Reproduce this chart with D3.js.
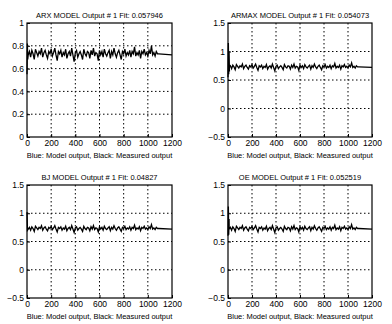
<!DOCTYPE html>
<html>
<head>
<meta charset="utf-8">
<script src="https://cdn.jsdelivr.net/npm/d3@7"></script>
<style>
  body { margin: 0; background: #fff; }
  svg { display: block; font-family: "Liberation Sans", Arial, sans-serif; }
</style>
</head>
<body>
<script>
// measured output, sampled every 10 steps from t=10 to t=1080
const measured = [
  0.72,0.75,0.70,0.76,0.73,0.68,0.77,0.74,0.71,0.75,
  0.73,0.78,0.70,0.74,0.76,0.72,0.69,0.75,0.73,0.77,
  0.71,0.74,0.78,0.72,0.67,0.75,0.73,0.76,0.70,0.74,
  0.72,0.77,0.69,0.73,0.75,0.71,0.78,0.72,0.66,0.74,
  0.76,0.70,0.73,0.75,0.72,0.68,0.77,0.73,0.71,0.75,
  0.74,0.69,0.76,0.72,0.78,0.71,0.74,0.73,0.67,0.76,
  0.72,0.75,0.70,0.77,0.73,0.71,0.74,0.76,0.69,0.75,
  0.72,0.78,0.73,0.70,0.74,0.76,0.72,0.68,0.75,0.73,
  0.77,0.71,0.74,0.72,0.76,0.70,0.75,0.73,0.79,0.71,
  0.74,0.72,0.76,0.69,0.75,0.73,0.77,0.72,0.74,0.71,
  0.76,0.73,0.80,0.72,0.74,0.71,0.75,0.73
];
const measuredStep = 10;
// flat tail after the data ends
const tail = [[1090, 0.73], [1200, 0.72]];

// start-up transients of each model (t, value)
const arxStart = [[0, 0.55], [3, 0.82], [6, 0.68]];
const armaxStart = [[0, 0.55], [3, 1.15], [6, 0.6], [9, 1.0], [12, 0.65]];
const bjStart = [[0, 1.02], [4, 0.7]];
const deStart = [[0, 0.6], [3, 1.12], [6, 0.62], [9, 0.9]];

const xTicks = [0, 200, 400, 600, 800, 1000, 1200];
const ticksArx = [0, 0.2, 0.4, 0.6, 0.8, 1];
const ticksWide = [-0.5, 0, 0.5, 1, 1.5];

const panels = [
  { title: "ARX MODEL Output # 1 Fit: 0.057946", start: arxStart, yDom: [0, 1], yTicks: ticksArx,
    left: 27, right: 172, top: 23, bottom: 137 },
  { title: "ARMAX MODEL Output # 1 Fit: 0.054073", start: armaxStart, yDom: [-0.5, 1.5], yTicks: ticksWide,
    left: 228, right: 372, top: 23, bottom: 137 },
  { title: "BJ MODEL Output # 1 Fit: 0.04827", start: bjStart, yDom: [-0.5, 1.5], yTicks: ticksWide,
    left: 27, right: 172, top: 185, bottom: 298 },
  { title: "OE MODEL Output # 1 Fit: 0.052519", start: deStart, yDom: [-0.5, 1.5], yTicks: ticksWide,
    left: 228, right: 372, top: 185, bottom: 298 }
];

const svg = d3.select("body").append("svg").attr("width", 392).attr("height", 324);

panels.forEach(p => {
  const x = d3.scaleLinear().domain([0, 1200]).range([p.left, p.right]);
  const y = d3.scaleLinear().domain(p.yDom).range([p.bottom, p.top]);
  const g = svg.append("g");

  // dotted grid
  g.selectAll(".gx").data(xTicks.slice(1, -1)).join("line")
    .attr("x1", d => x(d)).attr("x2", d => x(d)).attr("y1", p.top).attr("y2", p.bottom)
    .attr("stroke", "#000").attr("stroke-width", 1).attr("stroke-dasharray", "1.5,2.5");
  g.selectAll(".gy").data(p.yTicks.slice(1, -1)).join("line")
    .attr("y1", d => y(d)).attr("y2", d => y(d)).attr("x1", p.left).attr("x2", p.right)
    .attr("stroke", "#000").attr("stroke-width", 1).attr("stroke-dasharray", "1.5,2.5");

  // series
  const pts = p.start.concat(measured.map((v, i) => [(i + 1) * measuredStep, v]), tail);
  g.append("path").datum(pts)
    .attr("fill", "none").attr("stroke", "#000").attr("stroke-width", 1.3)
    .attr("d", d3.line().x(d => x(d[0])).y(d => y(d[1])));

  // axes
  const ax = g.append("g").attr("transform", `translate(0,${p.bottom})`)
    .call(d3.axisBottom(x).tickValues(xTicks).tickSize(-3).tickPadding(3).tickSizeOuter(0)
      .tickFormat(d3.format("d")));
  const ay = g.append("g").attr("transform", `translate(${p.left},0)`)
    .call(d3.axisLeft(y).tickValues(p.yTicks).tickSize(-3).tickPadding(3).tickSizeOuter(0)
      .tickFormat(d3.format("~g")));
  [ax, ay].forEach(a => {
    a.select(".domain").remove();
    a.selectAll("line").attr("stroke", "#000");
    a.selectAll("text").attr("font-size", 8.5).attr("fill", "#000");
  });

  g.append("rect").attr("x", p.left).attr("y", p.top)
    .attr("width", p.right - p.left).attr("height", p.bottom - p.top)
    .attr("fill", "none").attr("stroke", "#000").attr("stroke-width", 1.2);

  g.append("text").attr("x", (p.left + p.right) / 2).attr("y", p.top - 5)
    .attr("text-anchor", "middle").attr("font-size", 7.5).attr("fill", "#000").text(p.title);
  g.append("text").attr("x", (p.left + p.right) / 2).attr("y", p.bottom + 21)
    .attr("text-anchor", "middle").attr("font-size", 7.5).attr("fill", "#000")
    .text("Blue: Model output, Black: Measured output");
});
</script>
</body>
</html>
